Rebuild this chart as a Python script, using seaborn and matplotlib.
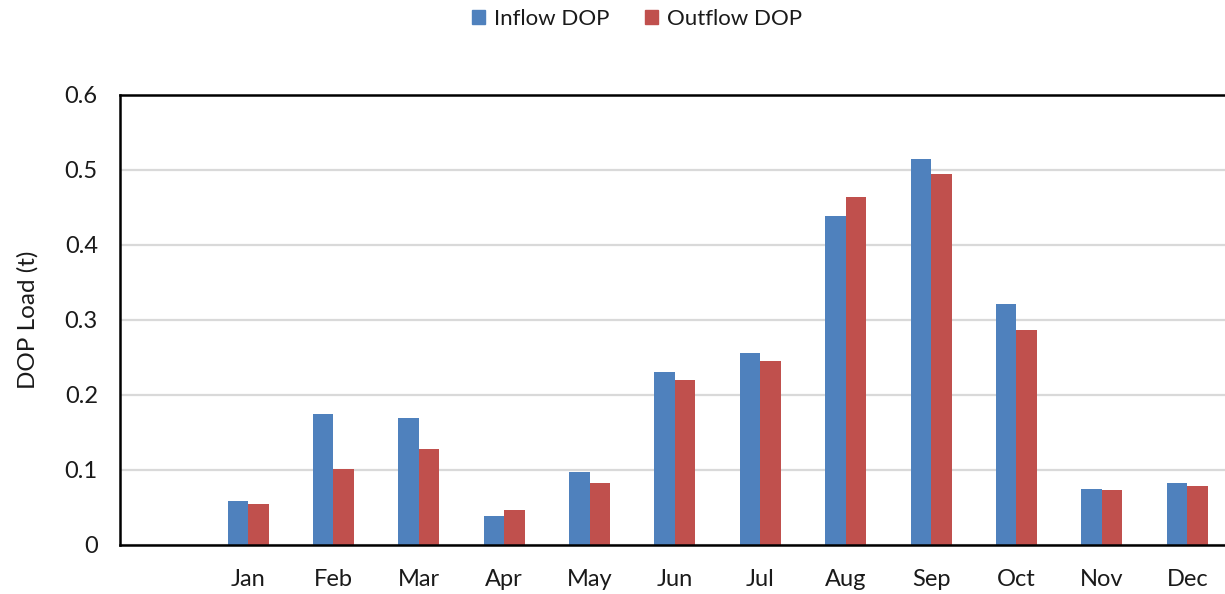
import numpy as np
import pandas as pd
import matplotlib
matplotlib.use("Agg")
import matplotlib.pyplot as plt
import seaborn as sns
from matplotlib.patches import Patch

# monthly DOP loads
months = ["Jan", "Feb", "Mar", "Apr", "May", "Jun",
          "Jul", "Aug", "Sep", "Oct", "Nov", "Dec"]
inflow = [0.058, 0.175, 0.169, 0.039, 0.097, 0.231,
          0.256, 0.438, 0.515, 0.321, 0.075, 0.083]
outflow = [0.055, 0.101, 0.128, 0.046, 0.082, 0.220,
           0.245, 0.464, 0.495, 0.287, 0.073, 0.078]
series = ["Inflow DOP", "Outflow DOP"]
colors = ["#4F81BD", "#C0504D"]

df = pd.DataFrame({"month": months * 2,
                   "load": inflow + outflow,
                   "series": [series[0]] * 12 + [series[1]] * 12})

sns.set_theme(style="white")
plt.rcParams["font.family"] = ["Lato", "DejaVu Sans"]

fig = plt.figure(figsize=(12.25, 5.94), dpi=100)
ax = fig.add_axes([0.098, 0.0825, 0.906, 0.7576])

sns.barplot(data=df, x="month", y="load", hue="series", order=months,
            hue_order=series, palette=colors, width=0.48, gap=0,
            edgecolor="none", saturation=1, legend=False, ax=ax)

# empty slot before Jan, like the original
ax.set_xlim(-1.5, 11.5)
ax.set_ylim(0, 0.6)
ax.set_yticks(np.arange(0, 0.61, 0.1))
ax.set_yticklabels(["0", "0.1", "0.2", "0.3", "0.4", "0.5", "0.6"])
ax.yaxis.grid(True, color="#d9d9d9", lw=1.6)
ax.set_axisbelow(True)

for s in ["left", "top", "bottom"]:
    ax.spines[s].set_color("black")
    ax.spines[s].set_linewidth(1.8)
ax.spines["right"].set_visible(False)

ax.tick_params(axis="y", length=0, pad=16, labelsize=17, colors="#1a1a1a")
ax.tick_params(axis="x", length=0, pad=17, labelsize=17, colors="#1a1a1a")
ax.set_xlabel("")
ax.set_ylabel("DOP Load (t)", fontsize=17.5, color="#1a1a1a")
ax.yaxis.set_label_coords(-0.073, 0.5)

handles = [Patch(color=c, label=l) for c, l in zip(colors, series)]
fig.legend(handles=handles, loc="center", bbox_to_anchor=(0.52, 0.968),
           ncol=2, frameon=False, fontsize=16, handlelength=0.6,
           handleheight=0.6, handletextpad=0.4, columnspacing=1.6,
           labelcolor="#1a1a1a")

fig.savefig("out.png", dpi=100)
